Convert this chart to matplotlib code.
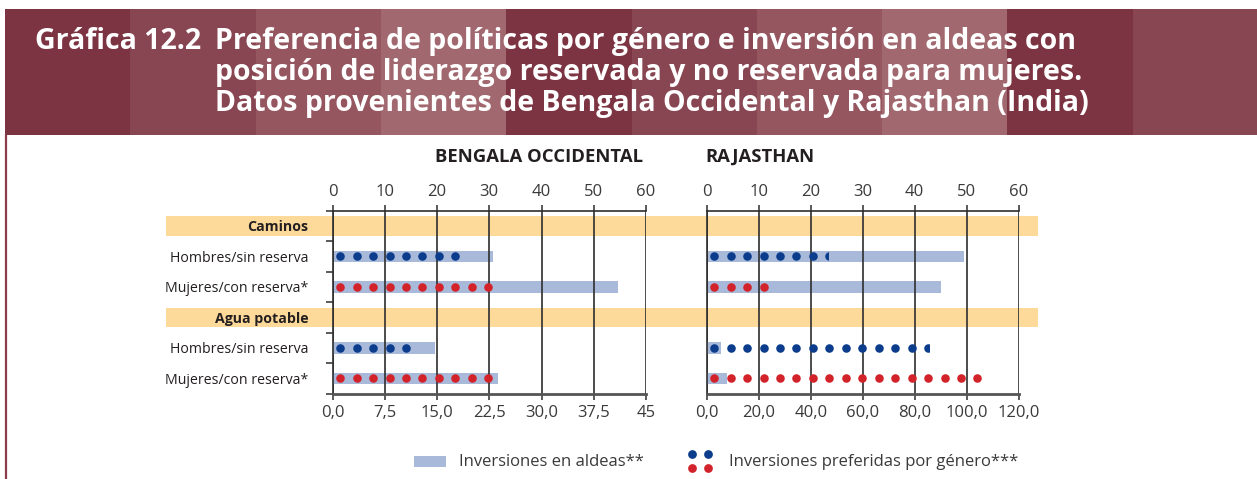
import numpy as np
import matplotlib.pyplot as plt
import matplotlib.transforms as mtransforms
from matplotlib.patches import Rectangle
from matplotlib.lines import Line2D

plt.rcParams['font.family'] = ['Open Sans', 'DejaVu Sans']

W, H = 1257, 479

# ---- data ----
groups = ["Caminos", "Agua potable"]
rows = ["Hombres/sin reserva", "Mujeres/con reserva*"]

# Inversiones en aldeas** (bars), [hombres, mujeres]
bengala_caminos_inv = [30.7, 54.7]
bengala_agua_inv = [14.7, 23.7]
rajasthan_caminos_inv = [49.5, 45.0]
rajasthan_agua_inv = [5.4, 7.9]

# Inversiones preferidas por género*** (dotted bars), [hombres, mujeres]
bengala_caminos_pref = [24.9, 31.1]
bengala_agua_pref = [11.8, 23.3]
rajasthan_caminos_pref = [23.4, 12.8]
rajasthan_agua_pref = [85.6, 105.9]

top_ticks = [0, 10, 20, 30, 40, 50, 60]
bengala_bottom_ticks = [0, 7.5, 15, 22.5, 30, 37.5, 45]
bengala_bottom_labels = ["0,0", "7,5", "15,0", "22,5", "30,0", "37,5", "45"]
rajasthan_bottom_ticks = [0, 20, 40, 60, 80, 100, 120]
rajasthan_bottom_labels = ["0,0", "20,0", "40,0", "60,0", "80,0", "100,0", "120,0"]

title_lines = ["Preferencia de políticas por género e inversión en aldeas con",
               "posición de liderazgo reservada y no reservada para mujeres.",
               "Datos provenientes de Bengala Occidental y Rajasthan (India)"]

BAR = '#a9b9da'
BLUE = '#0b3d8c'
RED = '#d2232a'
BAND = '#fdd99a'
GRID = '#2e2e2e'
TXT = '#231f20'
TICK_TXT = '#3a3a3a'


def fx(x):
    return x / W


def fy(y):
    return 1 - y / H


fig = plt.figure(figsize=(W / 100, H / 100), dpi=100)

# header with vertical stripes
stripe_colors = ['#7c3442', '#884552', '#955660', '#a1696f']
x, i = 5.0, 0
while x < W:
    fig.add_artist(Rectangle((fx(x), fy(135)), 125.6 / W, 126 / H, transform=fig.transFigure,
                             facecolor=stripe_colors[i % 4], lw=0, zorder=-2))
    x += 125.3
    i += 1
fig.add_artist(Line2D([fx(6), fx(6)], [fy(135), 0], transform=fig.transFigure,
                      color='#8c3d4c', lw=1.6))

fig.text(fx(35), fy(49), "Gráfica 12.2", color='white', weight='bold', size=20.5, va='baseline')
for k, line in enumerate(title_lines):
    fig.text(fx(215), fy(49 + 31 * k), line, color='white', weight='bold', size=20.5,
             va='baseline')

cam_y = [1, 2]
agua_y = [4, 5]
band_y = [0, 3]


def dotted(axd, ax_ref, y, value, color):
    # row of dots every ~16 px, cut off at the value
    span = ax_ref.get_xlim()[1] - ax_ref.get_xlim()[0]
    per_px = span / ax_ref.bbox.width
    xs = np.arange(7.5, 400, 16.45) * per_px
    xs = xs[xs < value + 5 * per_px]
    sc = axd.scatter(xs, np.full(len(xs), y), s=38, color=color, lw=0, zorder=4,
                     transform=ax_ref.transData)
    sc.set_clip_path(Rectangle((0, y - 0.3), value, 0.6, transform=ax_ref.transData))


def panel(left_px, width_px, cam_inv, cam_pref, agua_inv, agua_pref,
          bticks, blabels, show_labels):
    ax = fig.add_axes([fx(left_px), fy(393.7), width_px / W, 183 / H])
    ax.set_facecolor('none')
    ax.set_xlim(0, 60)
    ax.set_ylim(5.5, -0.5)
    axb = ax.twiny()
    axb.set_xlim(0, bticks[-1])

    ax.barh(cam_y, cam_inv, height=0.39, color=BAR, lw=0, zorder=1)
    axb.barh(agua_y, agua_inv, height=0.39, color=BAR, lw=0, zorder=1)
    for y, v, c in zip(cam_y, cam_pref, [BLUE, RED]):
        dotted(axb, ax, y, v, c)
    for y, v, c in zip(agua_y, agua_pref, [BLUE, RED]):
        dotted(axb, axb, y, v, c)
    axb.set_xlim(0, bticks[-1])
    ax.set_xlim(0, 60)
    ax.set_ylim(5.5, -0.5)

    ax.xaxis.tick_top()
    ax.set_xticks(top_ticks)
    ax.tick_params(axis='x', top=True, bottom=False, labeltop=True, labelbottom=False,
                   length=4, width=1.1, color=GRID, pad=4, labelsize=12, labelcolor=TICK_TXT)
    axb.xaxis.tick_bottom()
    axb.set_xticks(bticks)
    axb.set_xticklabels(blabels)
    axb.tick_params(axis='x', bottom=True, top=False, labelbottom=True, labeltop=False,
                    length=4, width=1.1, color=GRID, pad=4, labelsize=12, labelcolor=TICK_TXT)
    axb.grid(axis='x', color=GRID, lw=1.2)

    for s in ['bottom', 'right']:
        ax.spines[s].set_visible(False)
    for s in ['top', 'left', 'right']:
        axb.spines[s].set_visible(False)
    for s in ['top', 'left']:
        ax.spines[s].set_color(GRID)
        ax.spines[s].set_linewidth(1.2)
    axb.spines['bottom'].set_color('#555555')
    axb.spines['bottom'].set_linewidth(2)

    ax.set_yticks(range(6))
    if show_labels:
        ax.set_yticklabels([groups[0]] + rows + [groups[1]] + rows)
        for j in band_y:
            ax.get_yticklabels()[j].set_fontweight('bold')
        ax.set_yticks(np.arange(-0.5, 6, 1), minor=True)
        ax.tick_params(axis='y', which='major', length=0, pad=17.5, labelsize=10.2,
                       labelcolor=TXT)
        ax.tick_params(axis='y', which='minor', length=5, width=1.1, color=GRID)
    else:
        ax.tick_params(axis='y', which='both', left=False, labelleft=False)
    return ax


axL = panel(332.7, 313.2, bengala_caminos_inv, bengala_caminos_pref, bengala_agua_inv,
            bengala_agua_pref, bengala_bottom_ticks, bengala_bottom_labels, True)
axR = panel(706.7, 312.0, rajasthan_caminos_inv, rajasthan_caminos_pref, rajasthan_agua_inv,
            rajasthan_agua_pref, rajasthan_bottom_ticks, rajasthan_bottom_labels, False)

# category bands running across both panels
trans = mtransforms.blended_transform_factory(fig.transFigure, axL.transData)
for j in band_y:
    fig.add_artist(Rectangle((fx(166), j - 0.32), (1038 - 166) / W, 0.64, transform=trans,
                             facecolor=BAND, lw=0, zorder=-1))

fig.text(fx(643), fy(157), "BENGALA OCCIDENTAL", ha='right', va='center', weight='bold',
         size=13.3, color=TXT)
fig.text(fx(705), fy(157), "RAJASTHAN", ha='left', va='center', weight='bold', size=13.3,
         color=TXT)

# legend
fig.add_artist(Rectangle((fx(414), fy(467)), 32 / W, 11 / H, transform=fig.transFigure,
                         facecolor=BAR, lw=0))
fig.text(fx(459), fy(461.7), "Inversiones en aldeas**", va='center', size=12, color=TICK_TXT)
for (lx, ly, c) in [(692.3, 454, BLUE), (707.7, 454, BLUE), (692.3, 467.7, RED),
                    (707.7, 467.7, RED)]:
    fig.add_artist(Line2D([fx(lx)], [fy(ly)], transform=fig.transFigure, marker='o', ms=6.3,
                          color=c, mec='none', lw=0))
fig.text(fx(729.3), fy(461.7), "Inversiones preferidas por género***", va='center', size=12,
         color=TICK_TXT)

fig.savefig('out.png', dpi=100)
